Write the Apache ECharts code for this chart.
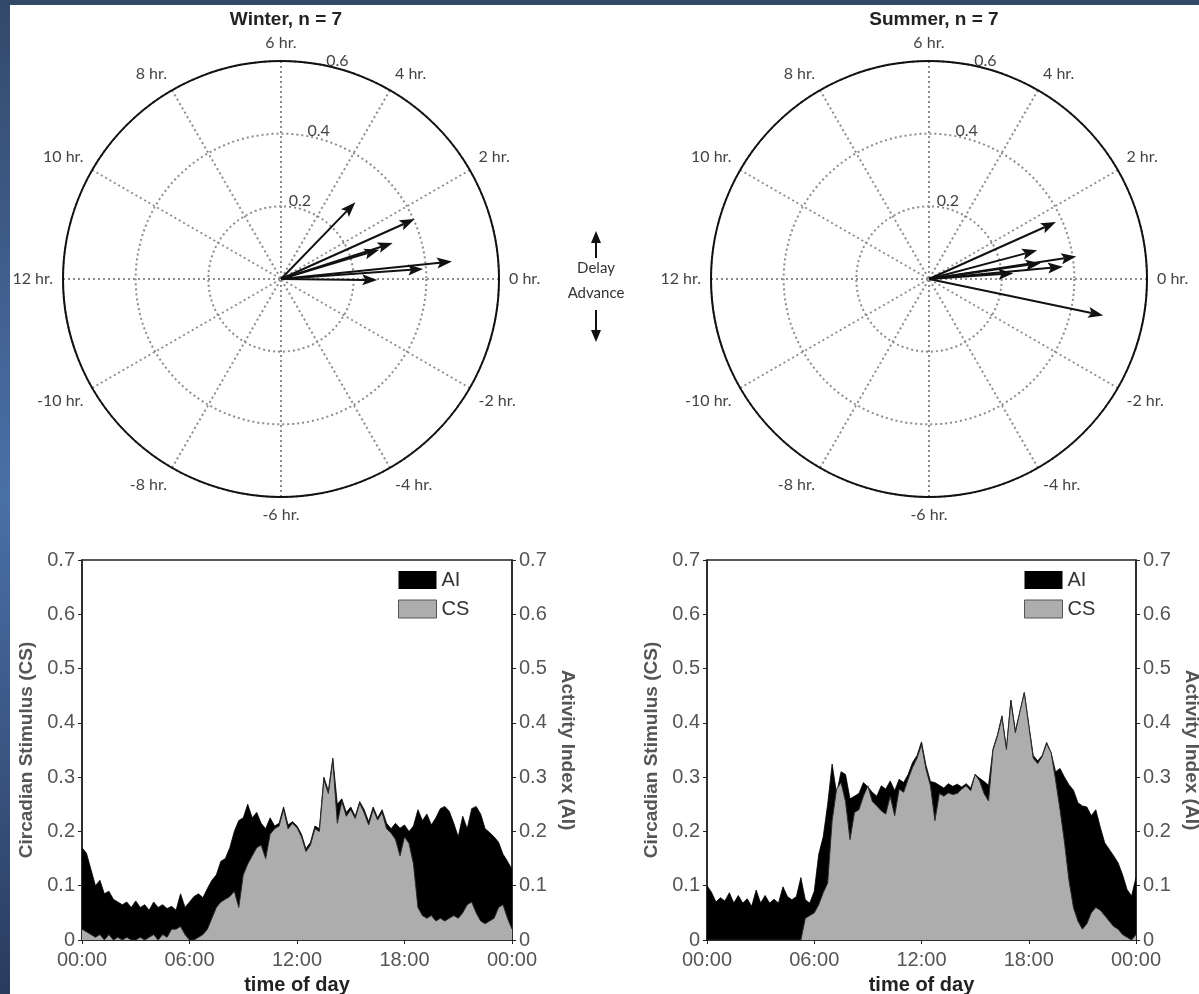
<!DOCTYPE html>
<html>
<head>
<meta charset="utf-8">
<script src="https://cdn.jsdelivr.net/npm/echarts@6/dist/echarts.min.js"></script>
<style>
html, body { margin: 0; padding: 0; background: #fff; }
#stripTop { position: absolute; left: 0; top: 0; width: 1199px; height: 5px; background: #33496a; }
#stripLeft { position: absolute; left: 0; top: 0; width: 10px; height: 994px;
  background: linear-gradient(#33496a, #4a70a8 50%, #2a3c5e); }
#box { position: absolute; left: 0; top: 0; width: 1199px; height: 994px; }
</style>
</head>
<body>
<div id="stripTop"></div>
<div id="stripLeft"></div>
<div id="box"></div>
<script>
// one sample every 15 min, 00:00 .. 24:00 (97 values)
var stepHours = 0.25;

var winterAI = [
  0.17, 0.16, 0.13, 0.10, 0.11, 0.085, 0.09, 0.075,
  0.07, 0.065, 0.07, 0.06, 0.072, 0.06, 0.065, 0.055,
  0.07, 0.06, 0.065, 0.058, 0.062, 0.055, 0.085, 0.06,
  0.07, 0.08, 0.085, 0.078, 0.095, 0.11, 0.12, 0.145,
  0.15, 0.17, 0.20, 0.22, 0.225, 0.25, 0.225, 0.235,
  0.215, 0.205, 0.225, 0.21, 0.215, 0.245, 0.212, 0.218,
  0.21, 0.195, 0.168, 0.18, 0.21, 0.205, 0.30, 0.275,
  0.335, 0.25, 0.26, 0.235, 0.245, 0.228, 0.255, 0.24,
  0.218, 0.245, 0.225, 0.24, 0.215, 0.205, 0.215, 0.206,
  0.212, 0.20, 0.21, 0.24, 0.22, 0.232, 0.212, 0.225,
  0.242, 0.246, 0.237, 0.215, 0.19, 0.228, 0.205, 0.242,
  0.246, 0.232, 0.205, 0.198, 0.19, 0.18, 0.158, 0.145,
  0.13
];
var winterCS = [
  0.02, 0.015, 0.01, 0.005, 0.01, 0, 0.01, 0,
  0.005, 0, 0.005, 0, 0, 0.005, 0, 0.005,
  0.01, 0, 0.01, 0.005, 0.02, 0.02, 0.025, 0.01,
  0, 0, 0.005, 0.01, 0.02, 0.04, 0.06, 0.07,
  0.075, 0.08, 0.09, 0.06, 0.12, 0.14, 0.155, 0.17,
  0.175, 0.15, 0.195, 0.205, 0.21, 0.24, 0.205, 0.215,
  0.207, 0.19, 0.163, 0.175, 0.205, 0.20, 0.295, 0.27,
  0.33, 0.215, 0.255, 0.228, 0.24, 0.224, 0.252, 0.234,
  0.212, 0.24, 0.221, 0.235, 0.205, 0.197, 0.185, 0.155,
  0.19, 0.178, 0.14, 0.06, 0.045, 0.04, 0.045, 0.035,
  0.04, 0.035, 0.04, 0.045, 0.04, 0.05, 0.065, 0.07,
  0.05, 0.035, 0.03, 0.035, 0.04, 0.06, 0.065, 0.04,
  0.02
];
var summerAI = [
  0.10, 0.088, 0.07, 0.078, 0.072, 0.087, 0.068, 0.082,
  0.068, 0.076, 0.062, 0.092, 0.068, 0.082, 0.068, 0.075,
  0.068, 0.098, 0.08, 0.074, 0.08, 0.115, 0.074, 0.068,
  0.09, 0.158, 0.19, 0.25, 0.324, 0.27, 0.31, 0.305,
  0.26, 0.265, 0.27, 0.29, 0.282, 0.272, 0.265, 0.284,
  0.278, 0.293, 0.275, 0.296, 0.29, 0.305, 0.327, 0.34,
  0.365, 0.322, 0.292, 0.29, 0.285, 0.28, 0.288, 0.283,
  0.287, 0.282, 0.288, 0.28, 0.305, 0.298, 0.292, 0.285,
  0.352, 0.378, 0.413, 0.352, 0.442, 0.385, 0.42, 0.456,
  0.397, 0.34, 0.33, 0.34, 0.364, 0.345, 0.31, 0.316,
  0.30, 0.286, 0.276, 0.253, 0.247, 0.245, 0.229, 0.24,
  0.208, 0.179, 0.167, 0.155, 0.142, 0.12, 0.093, 0.081,
  0.115
];
var summerCS = [
  0, 0, 0, 0, 0, 0, 0, 0,
  0, 0, 0, 0, 0, 0, 0, 0,
  0, 0, 0, 0, 0, 0, 0.04, 0.045,
  0.05, 0.065, 0.087, 0.105, 0.22, 0.278, 0.29, 0.255,
  0.185, 0.235, 0.24, 0.265, 0.284, 0.255, 0.247, 0.238,
  0.232, 0.265, 0.229, 0.278, 0.272, 0.296, 0.318, 0.335,
  0.36, 0.315, 0.284, 0.22, 0.27, 0.265, 0.271, 0.268,
  0.27, 0.278, 0.284, 0.275, 0.305, 0.293, 0.27, 0.256,
  0.35, 0.376, 0.41, 0.351, 0.44, 0.382, 0.42, 0.455,
  0.395, 0.335, 0.325, 0.338, 0.362, 0.345, 0.295, 0.24,
  0.18, 0.11, 0.06, 0.035, 0.02, 0.03, 0.05, 0.06,
  0.055, 0.045, 0.035, 0.025, 0.02, 0.01, 0.005, 0,
  0.01
];

// phase vectors: length and phase shift (hours, + = advance)
var winterMag = [0.294, 0.403, 0.323, 0.282, 0.473, 0.392, 0.265];
var winterHr = [3.06, 1.61, 1.19, 1.11, 0.39, 0.27, -0.04];
var summerMag = [0.383, 0.308, 0.41, 0.37, 0.31, 0.233, 0.49];
var summerHr = [1.61, 0.99, 0.58, 0.35, 0.54, 0.26, -0.79];

var polarFont = 'Lato';
var plotFont = 'Liberation Sans';

function toSeries(vals) {
  var out = [];
  for (var i = 0; i < vals.length; i++) out.push([i * stepHours, vals[i]]);
  return out;
}
// angle axis runs 6..30 so that 6 hr sits at the top and 0 hr on the right
function toAngle(h) {
  var a = ((h % 24) + 24) % 24;
  return a < 6 ? a + 24 : a;
}
function toVectors(mag, hr) {
  var out = [];
  for (var i = 0; i < mag.length; i++) out.push([mag[i], toAngle(hr[i])]);
  return out;
}
function hourLabel(v) {
  if (v === 30) return '';
  var h = v % 24;
  if (h > 12) h -= 24;
  return h + ' hr.';
}
function timeLabel(v) {
  var h = v % 24;
  return (h < 10 ? '0' : '') + h + ':00';
}
function valLabel(v) {
  return v === 0 ? '0' : v.toFixed(1);
}

function renderArrow(params, api) {
  var tip = api.coord([api.value(0), api.value(1)]);
  var base = api.coord([0, api.value(1)]);
  var dx = tip[0] - base[0], dy = tip[1] - base[1];
  var len = Math.sqrt(dx * dx + dy * dy) || 1;
  var ux = dx / len, uy = dy / len;
  var hl = 15, hw = 5.5;
  var bx = tip[0] - ux * hl, by = tip[1] - uy * hl;
  return {
    type: 'group',
    children: [
      { type: 'line', shape: { x1: base[0], y1: base[1], x2: bx + ux * 3, y2: by + uy * 3 },
        style: { stroke: '#111', lineWidth: 2 } },
      { type: 'polygon', shape: { points: [[tip[0], tip[1]], [bx - uy * hw, by + ux * hw], [bx + ux * 3, by + uy * 3], [bx + uy * hw, by - ux * hw]] },
        style: { fill: '#111' } }
    ]
  };
}

var polarCenters = [[281, 279], [929, 279]];
var polarR = 218;
var dotted = { type: [2, 3], color: '#8c8c8c', width: 2 };

function mainAngleAxis(idx) {
  return {
    polarIndex: idx, type: 'value', min: 6, max: 30, interval: 2,
    startAngle: 90, clockwise: false,
    axisLine: { lineStyle: { color: '#111', width: 2 } },
    axisTick: { show: false },
    axisLabel: { formatter: hourLabel, margin: 10, fontSize: 16, color: '#444', fontFamily: polarFont },
    splitLine: { show: true, lineStyle: dotted }
  };
}
function mainRadiusAxis(idx) {
  return {
    polarIndex: idx, type: 'value', min: 0, max: 0.6, interval: 0.2,
    axisLine: { show: false }, axisTick: { show: false }, axisLabel: { show: false },
    splitLine: { show: true, lineStyle: dotted }
  };
}
// second polar on top of each dial only to place the ring labels along 75 deg
function labelAngleAxis(idx) {
  return {
    polarIndex: idx, type: 'value', min: 0, max: 360, startAngle: 75, clockwise: false,
    axisLine: { show: false }, axisTick: { show: false }, axisLabel: { show: false }, splitLine: { show: false }
  };
}
function labelRadiusAxis(idx) {
  return {
    polarIndex: idx, type: 'value', min: 0, max: 0.6, interval: 0.2,
    axisLine: { show: false }, axisTick: { show: false }, splitLine: { show: false },
    axisLabel: {
      formatter: function (v) { return v === 0 ? '' : v.toFixed(1); },
      margin: 0, align: 'center', verticalAlign: 'bottom',
      fontSize: 16, color: '#444', fontFamily: polarFont
    }
  };
}

function timeAxis(g) {
  return {
    type: 'value', gridIndex: g, min: 0, max: 24, interval: 6,
    name: 'time of day', nameLocation: 'middle', nameGap: 35,
    nameTextStyle: { fontFamily: plotFont, fontWeight: 'bold', fontSize: 20, color: '#222' },
    axisLine: { lineStyle: { color: '#222', width: 1.5 } },
    axisTick: { length: 4, lineStyle: { color: '#222' } },
    axisLabel: { formatter: timeLabel, fontSize: 20, color: '#555', margin: 10, fontFamily: plotFont },
    splitLine: { show: false }
  };
}
function valueAxis(g, pos, name) {
  return {
    type: 'value', gridIndex: g, position: pos, min: 0, max: 0.7, interval: 0.1,
    name: name, nameLocation: 'middle', nameGap: 46, nameRotate: pos === 'left' ? 90 : -90,
    nameTextStyle: { fontFamily: plotFont, fontWeight: 'bold', fontSize: 19, color: '#555' },
    axisLine: { show: true, lineStyle: { color: '#222', width: 1.5 } },
    axisTick: { show: true, length: 4, lineStyle: { color: '#222' } },
    axisLabel: { formatter: valLabel, fontSize: 20, color: '#555', margin: 7, fontFamily: plotFont },
    splitLine: { show: false }
  };
}
function aiSeries(x, y, vals) {
  return {
    name: 'AI', type: 'line', xAxisIndex: x, yAxisIndex: y, data: toSeries(vals),
    symbol: 'none', silent: true, z: 2,
    lineStyle: { color: '#000', width: 0.8 }, itemStyle: { color: '#000' },
    areaStyle: { color: '#000', opacity: 1 }
  };
}
function csSeries(x, y, vals) {
  return {
    name: 'CS', type: 'line', xAxisIndex: x, yAxisIndex: y, data: toSeries(vals),
    symbol: 'none', silent: true, z: 3,
    lineStyle: { color: '#2a2a2a', width: 1 }, itemStyle: { color: '#adadad' },
    areaStyle: { color: '#adadad', opacity: 1 }
  };
}
function legendAt(left) {
  return {
    left: left, top: 565, orient: 'vertical', icon: 'rect', itemWidth: 38, itemHeight: 18, itemGap: 9,
    selectedMode: false,
    textStyle: { fontSize: 20, color: '#333', fontFamily: plotFont },
    data: [
      { name: 'AI', itemStyle: { color: '#000' } },
      { name: 'CS', itemStyle: { color: '#adadad', borderColor: '#555', borderWidth: 1 } }
    ]
  };
}

var chart = echarts.init(document.getElementById('box'));
var option = {
  animation: false,
  backgroundColor: 'transparent',
  title: [
    { text: 'Winter, n = 7', left: 281, top: 5, textAlign: 'center',
      textStyle: { fontFamily: plotFont, fontWeight: 'bold', fontSize: 19, color: '#222' } },
    { text: 'Summer, n = 7', left: 929, top: 5, textAlign: 'center',
      textStyle: { fontFamily: plotFont, fontWeight: 'bold', fontSize: 19, color: '#222' } }
  ],
  polar: [
    { center: polarCenters[0], radius: polarR },
    { center: polarCenters[1], radius: polarR },
    { center: polarCenters[0], radius: polarR },
    { center: polarCenters[1], radius: polarR }
  ],
  angleAxis: [mainAngleAxis(0), mainAngleAxis(1), labelAngleAxis(2), labelAngleAxis(3)],
  radiusAxis: [mainRadiusAxis(0), mainRadiusAxis(1), labelRadiusAxis(2), labelRadiusAxis(3)],
  grid: [
    { left: 82, top: 560, width: 430, height: 380, show: true, borderColor: '#222', borderWidth: 1.5,
      outerBoundsMode: 'none' },
    { left: 707, top: 560, width: 429, height: 380, show: true, borderColor: '#222', borderWidth: 1.5,
      outerBoundsMode: 'none' }
  ],
  xAxis: [timeAxis(0), timeAxis(1)],
  yAxis: [
    valueAxis(0, 'left', 'Circadian Stimulus (CS)'),
    valueAxis(0, 'right', 'Activity Index (AI)'),
    valueAxis(1, 'left', 'Circadian Stimulus (CS)'),
    valueAxis(1, 'right', 'Activity Index (AI)')
  ],
  legend: [legendAt(393), legendAt(1019)],
  graphic: [
    { type: 'line', shape: { x1: 596, y1: 258, x2: 596, y2: 242 }, style: { stroke: '#111', lineWidth: 2 } },
    { type: 'polygon', shape: { points: [[596, 231], [591, 243], [601, 243]] }, style: { fill: '#111' } },
    { type: 'text', x: 596, y: 268, style: { text: 'Delay', textAlign: 'center', textVerticalAlign: 'middle',
      font: '15px Lato', fill: '#333' } },
    { type: 'text', x: 596, y: 293, style: { text: 'Advance', textAlign: 'center', textVerticalAlign: 'middle',
      font: '15px Lato', fill: '#333' } },
    { type: 'line', shape: { x1: 596, y1: 310, x2: 596, y2: 331 }, style: { stroke: '#111', lineWidth: 2 } },
    { type: 'polygon', shape: { points: [[596, 342], [591, 330], [601, 330]] }, style: { fill: '#111' } }
  ],
  series: [
    { type: 'custom', coordinateSystem: 'polar', polarIndex: 0, encode: { radius: 0, angle: 1 },
      data: toVectors(winterMag, winterHr), renderItem: renderArrow, silent: true, z: 5 },
    { type: 'custom', coordinateSystem: 'polar', polarIndex: 1, encode: { radius: 0, angle: 1 },
      data: toVectors(summerMag, summerHr), renderItem: renderArrow, silent: true, z: 5 },
    aiSeries(0, 1, winterAI),
    csSeries(0, 0, winterCS),
    aiSeries(1, 3, summerAI),
    csSeries(1, 2, summerCS)
  ]
};
chart.setOption(option);
window.addEventListener('resize', function () {
  chart.resize();
});
</script>
</body>
</html>
